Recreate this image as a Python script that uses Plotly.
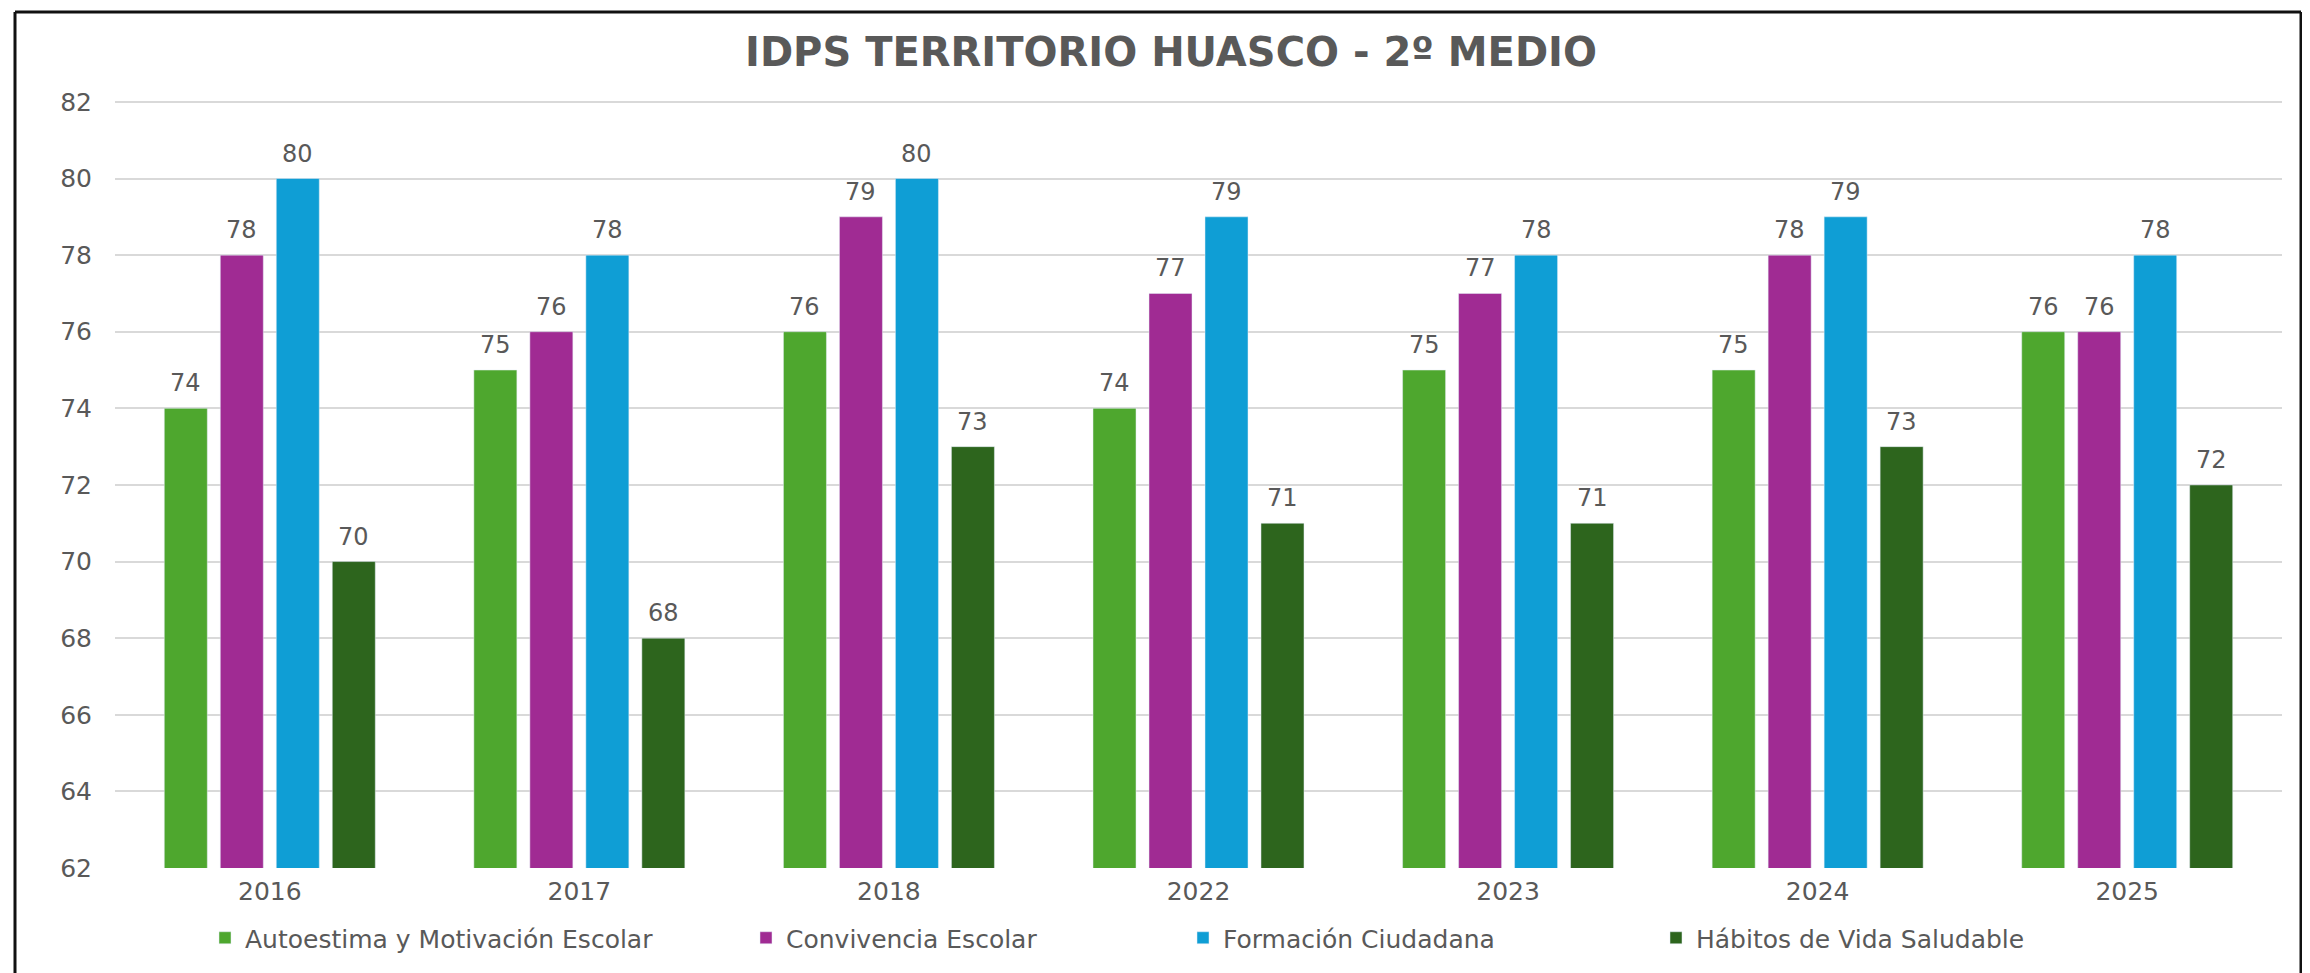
import plotly.graph_objects as go

# ---- data ----
years = ["2016", "2017", "2018", "2022", "2023", "2024", "2025"]
autoestima = [74, 75, 76, 74, 75, 75, 76]
convivencia = [78, 76, 79, 77, 77, 78, 76]
formacion = [80, 78, 80, 79, 78, 79, 78]
habitos = [70, 68, 73, 71, 71, 73, 72]
series_names = ["Autoestima y Motivación Escolar", "Convivencia Escolar",
                "Formación Ciudadana", "Hábitos de Vida Saludable"]
series_values = [autoestima, convivencia, formacion, habitos]
colors = ["#4EA72E", "#A02B93", "#0F9ED5", "#2D651D"]
y_ticks = list(range(62, 83, 2))
y_range = [62, 82.05]
title_text = "IDPS TERRITORIO HUASCO - 2º MEDIO"

# ---- layout constants (figure pixels; the page adds an 8px body margin) ----
W, H = 2302, 965
L, R, T, B = 107, 28, 92, 105
PW, PH = W - L - R, H - T - B
BARGAP, BARGROUPGAP = 0.2765, 0.232
FONT = "DejaVu Sans"
GRAY = "#595959"

cat_w = PW / len(years)
slot = cat_w * (1 - BARGAP) / len(series_values)

legend_marker_px = [217, 758, 1195, 1668]
legend_y_px = 930

fig = go.Figure()
legend_keys = ["legend", "legend2", "legend3", "legend4"]
for i, (name, vals, col) in enumerate(zip(series_names, series_values, colors)):
    fig.add_trace(go.Bar(x=years, y=vals, name=name, marker_color=col,
                         legend=legend_keys[i]))

# value labels: on a category axis annotations take the category index
annotations = []
for i, vals in enumerate(series_values):
    xs = (i - (len(series_values) - 1) / 2) * slot
    for j, v in enumerate(vals):
        annotations.append(dict(x=j, y=v, xref="x", yref="y", text=str(v),
                                showarrow=False, xshift=xs, yshift=25,
                                yanchor="middle", xanchor="center",
                                font=dict(family=FONT, size=24, color=GRAY)))

def px_to_paper_x(px):
    return (px - L) / PW

def px_to_paper_y(py):
    return (H - B - py) / PH

legends = {}
for i, key in enumerate(legend_keys):
    legends[key] = dict(orientation="h", x=px_to_paper_x(legend_marker_px[i] - 20),
                        xanchor="left", y=px_to_paper_y(legend_y_px), yanchor="middle",
                        bgcolor="rgba(0,0,0,0)", borderwidth=0, visible=True,
                        font=dict(family=FONT, size=25, color=GRAY))

border = dict(color="#111111", width=3)
shapes = [
    dict(type="line", xref="paper", yref="paper",
         x0=px_to_paper_x(7), x1=px_to_paper_x(7),
         y0=px_to_paper_y(4), y1=px_to_paper_y(H + 10), line=border),
    dict(type="line", xref="paper", yref="paper",
         x0=px_to_paper_x(7), x1=px_to_paper_x(2293),
         y0=px_to_paper_y(4), y1=px_to_paper_y(4), line=border),
    dict(type="line", xref="paper", yref="paper",
         x0=px_to_paper_x(2293), x1=px_to_paper_x(2293),
         y0=px_to_paper_y(4), y1=px_to_paper_y(H + 10), line=border),
]

fig.update_layout(
    width=W, height=H,
    margin=dict(l=L, r=R, t=T, b=B, autoexpand=False),
    paper_bgcolor="white", plot_bgcolor="white",
    barmode="group", bargap=BARGAP, bargroupgap=BARGROUPGAP,
    showlegend=True,
    title=dict(text=title_text, x=1163 / W, xanchor="center",
               y=1 - 44 / H, yanchor="middle",
               font=dict(family=FONT, size=40, color=GRAY, weight="bold")),
    font=dict(family=FONT, color=GRAY),
    annotations=annotations,
    shapes=shapes,
    **legends,
)
fig.update_xaxes(type="category", showgrid=False, showline=False, ticks="",
                 tickfont=dict(family=FONT, size=25, color=GRAY),
                 ticklabelstandoff=6)
fig.update_yaxes(range=y_range, tickvals=y_ticks, showgrid=True,
                 gridcolor="#D9D9D9", gridwidth=2, zeroline=False, showline=False,
                 ticks="", tickfont=dict(family=FONT, size=25, color=GRAY),
                 ticklabelstandoff=22)

fig.write_html("out.html")
